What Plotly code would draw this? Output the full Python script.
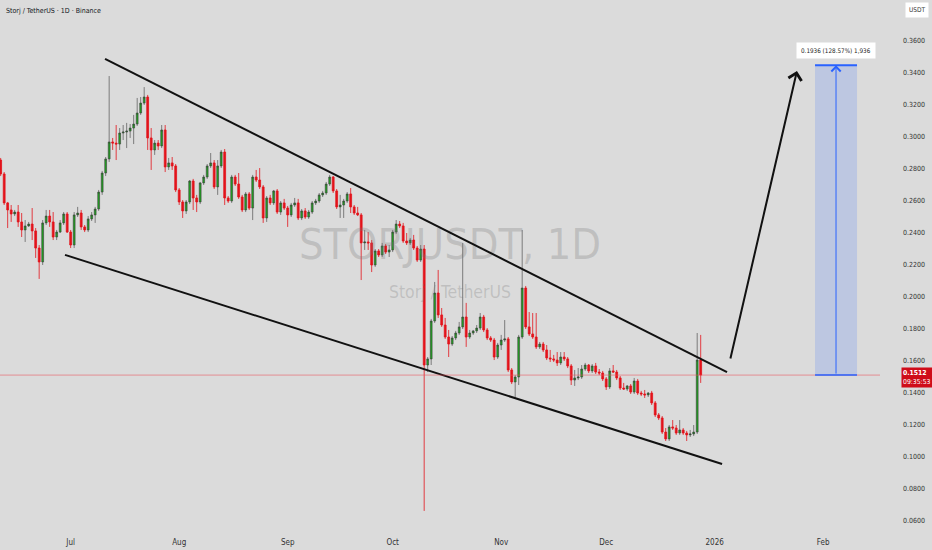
import pandas as pd
import plotly.graph_objects as go

# ---------------- data ----------------
dates = pd.date_range("2025-06-11", "2025-12-28", freq="D")

opens = [
    0.2856, 0.2769, 0.2588, 0.2544, 0.2519, 0.2531, 0.2469, 0.2419, 0.2444, 0.2456,
    0.2413, 0.2306, 0.2219, 0.2463, 0.2506, 0.2469, 0.2375, 0.2406, 0.2463, 0.2519,
    0.2406, 0.2325, 0.2513, 0.2525, 0.2438, 0.2419, 0.2488, 0.2513, 0.2550, 0.2656,
    0.2775, 0.2863, 0.2969, 0.2962, 0.2956, 0.3025, 0.3031, 0.3037, 0.3056, 0.3081,
    0.3150, 0.3212, 0.3250, 0.2994, 0.2919, 0.2962, 0.2944, 0.3044, 0.2813, 0.2838,
    0.2819, 0.2669, 0.2594, 0.2538, 0.2594, 0.2725, 0.2619, 0.2594, 0.2713, 0.2750,
    0.2819, 0.2838, 0.2688, 0.2819, 0.2906, 0.2619, 0.2600, 0.2750, 0.2706, 0.2625,
    0.2544, 0.2644, 0.2556, 0.2750, 0.2731, 0.2688, 0.2494, 0.2619, 0.2588, 0.2663,
    0.2531, 0.2588, 0.2556, 0.2513, 0.2575, 0.2588, 0.2494, 0.2538, 0.2500, 0.2531,
    0.2588, 0.2600, 0.2638, 0.2650, 0.2706, 0.2750, 0.2663, 0.2563, 0.2575, 0.2600,
    0.2644, 0.2563, 0.2525, 0.2513, 0.2338, 0.2344, 0.2338, 0.2200, 0.2288, 0.2263,
    0.2319, 0.2281, 0.2294, 0.2406, 0.2456, 0.2444, 0.2350, 0.2338, 0.2356, 0.2306,
    0.2231, 0.2300, 0.1575, 0.1613, 0.1850, 0.2025, 0.1888, 0.1825, 0.1750, 0.1706,
    0.1744, 0.1775, 0.1813, 0.1875, 0.1750, 0.1775, 0.1788, 0.1806, 0.1875, 0.1794,
    0.1744, 0.1731, 0.1625, 0.1700, 0.1731, 0.1738, 0.1544, 0.1469, 0.1500, 0.1750,
    0.2056, 0.1813, 0.1769, 0.1750, 0.1688, 0.1706, 0.1669, 0.1619, 0.1613, 0.1606,
    0.1588, 0.1625, 0.1613, 0.1569, 0.1481, 0.1494, 0.1500, 0.1550, 0.1575, 0.1538,
    0.1569, 0.1531, 0.1525, 0.1488, 0.1438, 0.1538, 0.1531, 0.1494, 0.1431, 0.1425,
    0.1444, 0.1406, 0.1475, 0.1400, 0.1394, 0.1388, 0.1400, 0.1338, 0.1263, 0.1244,
    0.1156, 0.1113, 0.1188, 0.1181, 0.1150, 0.1169, 0.1150, 0.1138, 0.1144, 0.1156,
    0.1606,
]

highs = [
    0.2869, 0.2781, 0.2594, 0.2575, 0.2544, 0.2575, 0.2525, 0.2481, 0.2469, 0.2556,
    0.2431, 0.2325, 0.2481, 0.2544, 0.2544, 0.2531, 0.2419, 0.2481, 0.2531, 0.2531,
    0.2419, 0.2531, 0.2563, 0.2544, 0.2450, 0.2506, 0.2531, 0.2563, 0.2669, 0.2788,
    0.2875, 0.3381, 0.2994, 0.3075, 0.3056, 0.3075, 0.3088, 0.3081, 0.3138, 0.3244,
    0.3250, 0.3312, 0.3263, 0.3056, 0.2981, 0.2981, 0.3075, 0.3075, 0.2869, 0.2875,
    0.2831, 0.2681, 0.2606, 0.2606, 0.2731, 0.2738, 0.2638, 0.2719, 0.2763, 0.2831,
    0.2900, 0.2856, 0.2856, 0.2919, 0.2925, 0.2631, 0.2763, 0.2763, 0.2775, 0.2638,
    0.2656, 0.2656, 0.2763, 0.2794, 0.2806, 0.2700, 0.2631, 0.2638, 0.2669, 0.2675,
    0.2600, 0.2613, 0.2569, 0.2588, 0.2619, 0.2613, 0.2550, 0.2556, 0.2544, 0.2600,
    0.2613, 0.2650, 0.2663, 0.2719, 0.2763, 0.2756, 0.2675, 0.2638, 0.2613, 0.2656,
    0.2681, 0.2575, 0.2563, 0.2525, 0.2419, 0.2406, 0.2356, 0.2300, 0.2300, 0.2338,
    0.2331, 0.2325, 0.2419, 0.2481, 0.2475, 0.2463, 0.2400, 0.2369, 0.2388, 0.2319,
    0.2325, 0.2325, 0.1625, 0.1863, 0.2094, 0.2169, 0.1931, 0.1869, 0.1794, 0.1756,
    0.1788, 0.1844, 0.2338, 0.1963, 0.1794, 0.1794, 0.1825, 0.1900, 0.1888, 0.1806,
    0.1756, 0.1744, 0.1713, 0.1763, 0.1856, 0.1750, 0.1556, 0.1512, 0.1763, 0.2419,
    0.2069, 0.1906, 0.1900, 0.1900, 0.1719, 0.1719, 0.1700, 0.1669, 0.1638, 0.1656,
    0.1656, 0.1656, 0.1625, 0.1581, 0.1544, 0.1556, 0.1575, 0.1588, 0.1581, 0.1581,
    0.1588, 0.1550, 0.1538, 0.1500, 0.1556, 0.1575, 0.1544, 0.1506, 0.1463, 0.1450,
    0.1456, 0.1494, 0.1488, 0.1413, 0.1419, 0.1406, 0.1413, 0.1350, 0.1275, 0.1256,
    0.1181, 0.1200, 0.1231, 0.1200, 0.1231, 0.1181, 0.1163, 0.1169, 0.1200, 0.1775,
    0.1763,
]

lows = [
    0.2756, 0.2575, 0.2431, 0.2469, 0.2506, 0.2438, 0.2375, 0.2344, 0.2438, 0.2356,
    0.2244, 0.2113, 0.2200, 0.2450, 0.2438, 0.2356, 0.2356, 0.2400, 0.2450, 0.2400,
    0.2306, 0.2306, 0.2500, 0.2419, 0.2406, 0.2406, 0.2475, 0.2463, 0.2538, 0.2638,
    0.2756, 0.2844, 0.2919, 0.2856, 0.2919, 0.2981, 0.2931, 0.2994, 0.2956, 0.3069,
    0.3138, 0.3200, 0.2919, 0.2794, 0.2888, 0.2919, 0.2931, 0.2781, 0.2794, 0.2794,
    0.2656, 0.2575, 0.2494, 0.2519, 0.2581, 0.2544, 0.2531, 0.2581, 0.2700, 0.2738,
    0.2806, 0.2675, 0.2638, 0.2806, 0.2575, 0.2588, 0.2588, 0.2694, 0.2613, 0.2531,
    0.2531, 0.2544, 0.2481, 0.2719, 0.2675, 0.2463, 0.2469, 0.2575, 0.2575, 0.2519,
    0.2513, 0.2544, 0.2438, 0.2500, 0.2563, 0.2481, 0.2481, 0.2488, 0.2488, 0.2519,
    0.2575, 0.2588, 0.2625, 0.2638, 0.2694, 0.2650, 0.2550, 0.2494, 0.2494, 0.2588,
    0.2525, 0.2513, 0.2506, 0.2106, 0.2294, 0.2294, 0.2156, 0.2188, 0.2250, 0.2250,
    0.2269, 0.2250, 0.2281, 0.2394, 0.2431, 0.2338, 0.2325, 0.2325, 0.2294, 0.2219,
    0.2219, 0.0663, 0.1531, 0.1575, 0.1838, 0.1869, 0.1813, 0.1738, 0.1625, 0.1694,
    0.1731, 0.1763, 0.1800, 0.1688, 0.1738, 0.1763, 0.1775, 0.1794, 0.1781, 0.1731,
    0.1719, 0.1606, 0.1613, 0.1669, 0.1719, 0.1531, 0.1456, 0.1375, 0.1450, 0.1738,
    0.1800, 0.1756, 0.1738, 0.1675, 0.1675, 0.1656, 0.1606, 0.1594, 0.1594, 0.1569,
    0.1575, 0.1600, 0.1556, 0.1450, 0.1444, 0.1481, 0.1488, 0.1538, 0.1525, 0.1525,
    0.1519, 0.1512, 0.1475, 0.1419, 0.1425, 0.1525, 0.1481, 0.1419, 0.1419, 0.1413,
    0.1394, 0.1394, 0.1388, 0.1381, 0.1369, 0.1375, 0.1325, 0.1250, 0.1231, 0.1144,
    0.1100, 0.1100, 0.1169, 0.1138, 0.1138, 0.1138, 0.1100, 0.1125, 0.1131, 0.1144,
    0.1463,
]

closes = [
    0.2769, 0.2588, 0.2544, 0.2519, 0.2531, 0.2469, 0.2419, 0.2444, 0.2456, 0.2413,
    0.2306, 0.2219, 0.2463, 0.2506, 0.2469, 0.2375, 0.2406, 0.2463, 0.2519, 0.2406,
    0.2325, 0.2513, 0.2525, 0.2438, 0.2419, 0.2488, 0.2513, 0.2550, 0.2656, 0.2775,
    0.2863, 0.2969, 0.2962, 0.2956, 0.3025, 0.3031, 0.3037, 0.3056, 0.3081, 0.3150,
    0.3212, 0.3250, 0.2994, 0.2919, 0.2962, 0.2944, 0.3044, 0.2813, 0.2838, 0.2819,
    0.2669, 0.2594, 0.2538, 0.2594, 0.2725, 0.2619, 0.2594, 0.2713, 0.2750, 0.2819,
    0.2838, 0.2688, 0.2819, 0.2906, 0.2619, 0.2600, 0.2750, 0.2706, 0.2625, 0.2544,
    0.2644, 0.2556, 0.2750, 0.2731, 0.2688, 0.2494, 0.2619, 0.2588, 0.2663, 0.2531,
    0.2588, 0.2556, 0.2513, 0.2575, 0.2588, 0.2494, 0.2538, 0.2500, 0.2531, 0.2588,
    0.2600, 0.2638, 0.2650, 0.2706, 0.2750, 0.2663, 0.2563, 0.2575, 0.2600, 0.2644,
    0.2563, 0.2525, 0.2513, 0.2338, 0.2344, 0.2338, 0.2200, 0.2288, 0.2263, 0.2319,
    0.2281, 0.2294, 0.2406, 0.2456, 0.2444, 0.2350, 0.2338, 0.2356, 0.2306, 0.2231,
    0.2300, 0.1575, 0.1613, 0.1850, 0.2025, 0.1888, 0.1825, 0.1750, 0.1706, 0.1744,
    0.1775, 0.1813, 0.1875, 0.1750, 0.1775, 0.1788, 0.1806, 0.1875, 0.1794, 0.1744,
    0.1731, 0.1625, 0.1700, 0.1731, 0.1738, 0.1544, 0.1469, 0.1500, 0.1750, 0.2056,
    0.1813, 0.1769, 0.1750, 0.1688, 0.1706, 0.1669, 0.1619, 0.1613, 0.1606, 0.1588,
    0.1625, 0.1613, 0.1569, 0.1481, 0.1494, 0.1500, 0.1550, 0.1575, 0.1538, 0.1569,
    0.1531, 0.1525, 0.1488, 0.1438, 0.1538, 0.1531, 0.1494, 0.1431, 0.1425, 0.1444,
    0.1406, 0.1475, 0.1400, 0.1394, 0.1388, 0.1400, 0.1338, 0.1263, 0.1244, 0.1156,
    0.1113, 0.1188, 0.1181, 0.1150, 0.1169, 0.1150, 0.1138, 0.1144, 0.1156, 0.1606,
    0.1512,
]

last_price = 0.1512
countdown = "09:35:53"

# drawings (date, price)
upper_line_x = ["2025-07-10 19:30", "2026-01-04 12:30"]
upper_line_y = [0.3488, 0.1531]
lower_line_x = ["2025-06-29 09:00", "2026-01-03 02:30"]
lower_line_y = [0.2263, 0.0956]
arrow_tail = ("2026-01-05 09:30", 0.1606)
arrow_tip = ("2026-01-24 12:00", 0.3413)
target_x = ["2026-01-29 16:00", "2026-02-10 16:00"]
target_mid_x = "2026-02-04 16:00"
target_low, target_high = 0.1512, 0.3448
target_label = "0.1936 (128.57%) 1,936"
target_label_y = 0.3538

watermark_pos = ("2025-10-17 09:00", 0.2306)
subtitle_pos = ("2025-10-17 09:00", 0.2020)

month_ticks = ["2025-07-01", "2025-08-01", "2025-09-01", "2025-10-01",
               "2025-11-01", "2025-12-01", "2026-01-01", "2026-02-01"]
month_labels = ["Jul", "Aug", "Sep", "Oct", "Nov", "Dec", "2026", "Feb"]
price_ticks = [0.06, 0.08, 0.10, 0.12, 0.14, 0.16, 0.18, 0.20, 0.22, 0.24,
               0.26, 0.28, 0.30, 0.32, 0.34, 0.36]

x_range = ["2025-06-10 19:24", "2026-02-17 05:30"]
y_range = [0.054375, 0.385625]

FONT = "Liberation Sans Narrow, Arial Narrow, DejaVu Sans Condensed, Liberation Sans, Arial, sans-serif"
BG = "#dbdbdb"
GREEN = "#1fa41f"
RED = "#e3131b"

fig = go.Figure()

# watermark (behind candles)
fig.add_trace(go.Scatter(
    x=[watermark_pos[0]], y=[watermark_pos[1]], mode="text",
    text=["STORJUSDT, 1D"],
    textfont=dict(family=FONT, size=43, color="rgba(120,120,120,0.28)"),
    hoverinfo="skip", showlegend=False))
fig.add_trace(go.Scatter(
    x=[subtitle_pos[0]], y=[subtitle_pos[1]], mode="text",
    text=["Storj / TetherUS"],
    textfont=dict(family=FONT, size=17.5, color="rgba(120,120,120,0.28)"),
    hoverinfo="skip", showlegend=False))

fig.add_trace(go.Candlestick(
    x=dates, open=opens, high=highs, low=lows, close=closes,
    increasing=dict(fillcolor=GREEN, line=dict(color="#3a3a3a", width=0.6)),
    decreasing=dict(fillcolor=RED, line=dict(color=RED, width=0.8)),
    whiskerwidth=0, showlegend=False, hoverinfo="skip"))

# trend lines
for xs, ys in [(upper_line_x, upper_line_y), (lower_line_x, lower_line_y)]:
    fig.add_trace(go.Scatter(x=xs, y=ys, mode="lines",
                             line=dict(color="#111111", width=2),
                             hoverinfo="skip", showlegend=False))

shapes = [
    dict(type="line", xref="paper", x0=0, x1=1, yref="y", y0=last_price, y1=last_price,
         line=dict(color="rgba(235,80,90,0.55)", width=1)),
    dict(type="rect", xref="x", yref="y", x0=target_x[0], x1=target_x[1],
         y0=target_low, y1=target_high, fillcolor="rgba(41,98,255,0.17)", line=dict(width=0)),
    dict(type="line", xref="x", yref="y", x0=target_x[0], x1=target_x[1],
         y0=target_high, y1=target_high, line=dict(color="#2962ff", width=2)),
    dict(type="line", xref="x", yref="y", x0=target_x[0], x1=target_x[1],
         y0=target_low, y1=target_low, line=dict(color="#2962ff", width=1.5)),
]

annotations = [
    dict(x=arrow_tip[0], y=arrow_tip[1], ax=arrow_tail[0], ay=arrow_tail[1],
         xref="x", yref="y", axref="x", ayref="y", text="", showarrow=True,
         arrowhead=4, arrowsize=1.3, arrowwidth=2, arrowcolor="#111111"),
    dict(x=target_mid_x, y=target_high, ax=target_mid_x, ay=target_low,
         xref="x", yref="y", axref="x", ayref="y", text="", showarrow=True,
         arrowhead=4, arrowsize=1.8, arrowwidth=1, arrowcolor="#2962ff"),
    dict(x=target_mid_x, y=target_label_y, xref="x", yref="y", text=target_label,
         showarrow=False, bgcolor="white", borderpad=4,
         font=dict(family=FONT, size=6.3, color="#222")),
    dict(x=0.004, y=0.979, xref="paper", yref="paper", xanchor="left", yanchor="middle",
         text="Storj / TetherUS · 1D · Binance", showarrow=False,
         font=dict(family=FONT, size=7, color="#131722")),
    dict(x=1.0415, y=0.981, xref="paper", yref="paper", xanchor="center", yanchor="middle",
         text="USDT", showarrow=False, bgcolor="white", borderpad=3,
         font=dict(family=FONT, size=6.5, color="#333")),
    dict(x=1.0415, y=last_price, xref="paper", yref="y", xanchor="center", yanchor="middle",
         yshift=-2, text=f"<b>{last_price:.4f}</b><br>{countdown}", showarrow=False,
         bgcolor="#cf0d19", borderpad=1, align="left",
         font=dict(family=FONT, size=6.8, color="white")),
]

fig.update_layout(
    width=932, height=550,
    margin=dict(l=0, r=52, t=0, b=20),
    paper_bgcolor=BG, plot_bgcolor=BG,
    font=dict(family=FONT),
    showlegend=False,
    boxgap=0.25,
    shapes=shapes, annotations=annotations,
    xaxis=dict(type="date", range=x_range, rangeslider=dict(visible=False),
               showgrid=False, zeroline=False, showline=False, ticks="",
               tickvals=month_ticks, ticktext=month_labels, ticklabelstandoff=6,
               tickfont=dict(family=FONT, size=8, color="#333")),
    yaxis=dict(side="right", range=y_range, showgrid=False, zeroline=False,
               showline=False, ticks="", tickvals=price_ticks, tickformat=".4f",
               ticklabelstandoff=22,
               tickfont=dict(family=FONT, size=7, color="#333")),
)

fig.write_html("out.html", config={"displayModeBar": False},
               post_script="document.body.style.margin='0';document.body.style.background='#dbdbdb';")
